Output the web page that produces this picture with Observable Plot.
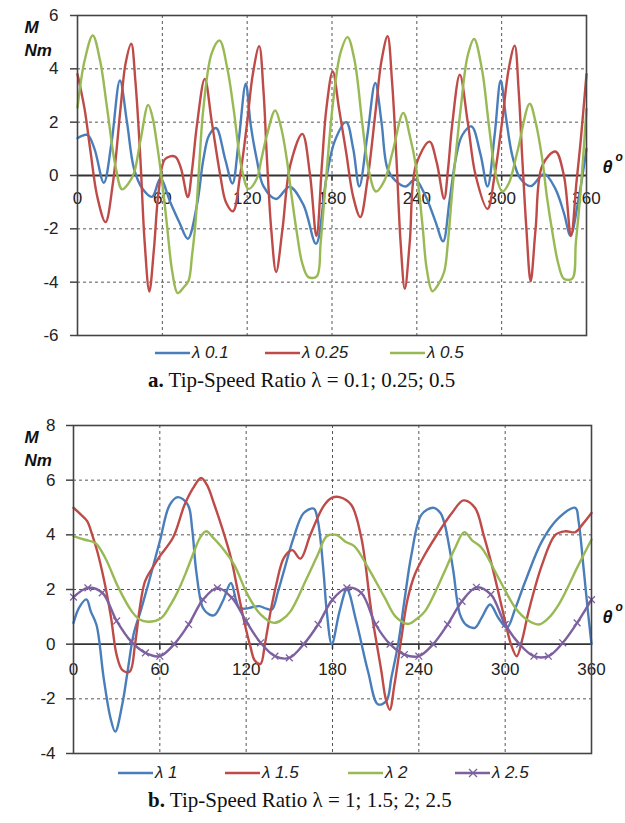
<!DOCTYPE html>
<html><head><meta charset="utf-8">
<script src="https://cdn.jsdelivr.net/npm/d3@7"></script>
<script src="https://cdn.jsdelivr.net/npm/@observablehq/plot@0.6"></script>
<style>
body{margin:0;background:#fff;width:625px;font-family:"Liberation Sans",Arial,sans-serif;}
.legend{position:relative;height:26px;}
.item{position:absolute;top:0;height:26px;display:flex;align-items:center;font-style:italic;font-size:17px;color:#222;white-space:nowrap}
.item svg{margin-right:2px}
.caption{height:28px;padding-left:148px;font-family:"Liberation Serif","Times New Roman",serif;font-size:21px;color:#111;line-height:28px;white-space:nowrap}
</style></head><body>
<div id="chartA"></div>
<div class="legend" id="legA"></div>
<div class="caption"><b>a.</b> Tip-Speed Ratio λ = 0.1; 0.25; 0.5</div>
<div id="chartB"></div>
<div class="legend" id="legB"></div>
<div class="caption"><b>b.</b> Tip-Speed Ratio λ = 1; 1.5; 2; 2.5</div>
<script>
// ---------- data (theta in degrees, M in Nm) ----------
const xTicks = [0, 60, 120, 180, 240, 300, 360];
const yTicksA = [-6, -4, -2, 0, 2, 4, 6];
const yTicksB = [-4, -2, 0, 2, 4, 6, 8];
const seriesA = ["λ 0.1", "λ 0.25", "λ 0.5"];
const seriesB = ["λ 1", "λ 1.5", "λ 2", "λ 2.5"];

const a01 = [[0,1.4],[7,1.52],[12,1.0],[18.6,-0.27],[24,1.2],[30,3.56],[35,2.0],[40,0.25],[46,-0.5],[52.7,-0.8],[58.6,-0.12],[65.6,-1.0],[72,-1.75],[78,-2.37],[84.5,-1.1],[89,0.6],[93,1.5],[98,1.78],[104.5,0.6],[109.6,-0.3],[114,1.3],[119,3.44],[122.5,1.9],[126.8,0.6],[131.5,-0.4],[140.5,-0.88],[150,-0.42],[159.8,-1.1],[168.7,-2.56],[176,-0.1],[182,1.3],[190,2.0],[195,1.0],[199.3,-0.41],[205,1.5],[210.6,3.47],[215,2.0],[219.3,0.25],[225,-0.2],[232,-0.41],[238.8,-0.15],[246,-0.75],[253,-1.7],[258.6,-2.47],[263,-1.0],[267.5,0.62],[272,1.5],[278.6,1.84],[285,0.8],[290,-0.41],[295,1.5],[299.3,3.56],[303,2.2],[307.5,0.75],[313,-0.1],[320.5,-0.4],[330,0.06],[338,-0.5],[344,-1.4],[348.7,-2.25],[354,-1.0],[360,1.0]];

const a025 = [[0,3.8],[5,2.5],[9.2,0.9],[14,-0.8],[19.8,-1.75],[25,-0.3],[30.4,2.5],[34,4.2],[38,4.94],[41,3.5],[44.5,0.6],[47.5,-2.5],[50.8,-4.35],[54,-2.8],[57.4,-0.6],[62,0.62],[69,0.71],[73,0.3],[78,-0.81],[81,0.2],[84.5,1.9],[90,3.62],[95,2.0],[101,0],[105,-1.0],[110,-1.34],[115,0],[119.8,1.9],[124,3.8],[128.5,4.85],[131.5,3.2],[134,0.62],[137,-2.0],[140.5,-3.62],[145,-2.0],[150.4,0.37],[159,1.56],[164.5,0],[169,-2.27],[173,0.5],[176,2.5],[180.5,3.9],[185,2.5],[190,0.87],[195,-0.8],[200,-1.56],[205,-0.2],[211,2.5],[215,4.3],[219.3,5.22],[222.5,3.5],[225.6,0.62],[228.5,-2.5],[231.5,-4.25],[235,-2.5],[239.3,0.37],[249,1.27],[254,0.5],[259.3,-0.87],[262,0.2],[265,1.9],[270.4,3.78],[276,2.0],[281.6,0],[290,-1.25],[295,0],[300.5,2.1],[305,4.0],[309.2,4.87],[312,3.2],[314.6,0.62],[317.5,-2.0],[320.5,-3.97],[324,-2.0],[328.7,0.37],[338,0.9],[344,0],[349,-2.27],[353,-0.2],[355.8,1.25],[360,3.8]];

const a05 = [[0,2.55],[5,4.3],[10.8,5.25],[16,4.3],[21,2.5],[26.8,0.37],[31.5,-0.52],[36,-0.3],[40,0.1],[44.5,1.3],[50,2.65],[53,2.2],[56,1.25],[60,-0.3],[63.3,-1.87],[67,-3.6],[70.8,-4.41],[75,-4.2],[78.6,-3.94],[81,-3.0],[83.3,-1.87],[86,0.3],[89,2.5],[95,4.6],[100.5,5.06],[106,4.0],[110.4,2.5],[116.2,0.25],[121,-0.5],[126.8,-0.12],[130,0.6],[133.9,1.5],[139.8,2.44],[144,1.8],[148,0.62],[151,-0.6],[155,-2.1],[159,-3.3],[163.3,-3.81],[169.2,-3.78],[172,-2.5],[175,-0.62],[181,2.87],[186,4.6],[191,5.19],[196,4.3],[201.6,1.87],[206,0.2],[211,-0.6],[217,-0.2],[222.8,0.87],[230.4,2.35],[235,1.5],[239.3,0.37],[244,-1.87],[247,-3.5],[251,-4.34],[255,-4.1],[259.3,-3.62],[262,-2.5],[265,-0.62],[271,2.5],[276,4.5],[280.5,5.12],[286,4.0],[291,1.87],[296,0],[300.5,-0.6],[305,-0.3],[311,0.87],[319.8,2.69],[324,2.0],[328.7,0.62],[332,-0.8],[335.8,-2.1],[340,-3.3],[344,-3.87],[349.9,-3.87],[352.5,-2.5],[355.8,-0.62],[360,2.5]];

const b1 = [[0,0.78],[4,1.35],[9,1.64],[12,1.2],[16,0.7],[21,-1.25],[25.7,-2.7],[29,-3.2],[33.9,-2.2],[37.3,-1.1],[41.8,0.37],[46.6,1.2],[52,2.2],[60,3.77],[66.9,5.1],[72.6,5.38],[79.5,5.1],[82.5,4.2],[85.3,2.67],[89.9,1.33],[94,1.1],[97.9,1.06],[103.7,1.57],[109.4,2.24],[113,1.6],[115.2,1.33],[119.8,1.3],[124,1.35],[129,1.39],[134,1.3],[138,1.27],[142,1.9],[146.2,2.67],[153,3.9],[160,4.8],[167,4.96],[169.5,4.6],[171.5,3.9],[174,2.5],[176,1.2],[179.5,0],[184.9,1.2],[190,2.0],[196.5,0.84],[204.7,-1.0],[211.6,-2.2],[217.4,-2.08],[221,-1.2],[225.6,0],[230,1.6],[234.9,3.28],[241.9,4.74],[250,4.99],[255,4.8],[258,4.38],[261,3.6],[264,2.67],[268.6,1.09],[273,0.7],[279,0.6],[284,1.0],[289.5,1.45],[295.3,0.96],[301.2,0.6],[307,1.3],[314,2.3],[325.6,3.77],[337.2,4.62],[348.8,4.99],[351,4.5],[354.7,2.67],[357.5,1.2],[360,0]];

const b15 = [[0,4.99],[5,4.75],[9.5,4.5],[13,4.0],[16.5,3.4],[21,2.4],[26,1.0],[30,-0.4],[34,-0.95],[39,-1.01],[42.8,0],[46,1.3],[49.7,2.3],[55,2.8],[60,3.22],[69.2,3.9],[77.2,5.1],[83,5.7],[88.7,6.08],[93,5.8],[97.9,5.1],[103,4.3],[109.4,3.16],[114,2.0],[118.6,0.84],[123,-0.1],[126,-0.6],[130,-0.72],[133,0],[137,1.2],[141,2.2],[146.2,3.16],[152,3.44],[157.7,3.13],[164.6,4.0],[173.8,5.05],[179.5,5.35],[184.9,5.38],[193,5.1],[200,3.9],[207,1.2],[214,-1.0],[217,-2.0],[219.8,-2.4],[223,-1.5],[227.9,0.23],[232,1.6],[237.2,2.55],[244.2,3.28],[255.8,4.26],[263,4.8],[271,5.26],[279,4.99],[285,4.0],[290.7,2.9],[300,0.84],[304,0],[308,-0.44],[312,0.2],[316.3,1.2],[325.6,2.9],[334.9,4.0],[341.9,4.13],[348.8,4.1],[354,4.4],[360,4.8]];

const b2 = [[0,3.95],[8,3.82],[15.2,3.7],[22,3.16],[31.3,2.06],[40.5,1.2],[46,0.9],[52,0.82],[61,0.96],[67,1.4],[72.6,1.94],[78,2.6],[83,3.28],[88,3.9],[92.2,4.13],[97,3.9],[102.5,3.58],[111.7,2.9],[120.9,1.82],[130,1.09],[139.3,0.78],[145,0.9],[150.8,1.2],[162.3,2.43],[170,3.3],[176,3.95],[182.6,4.0],[189,3.75],[195.3,3.58],[204.7,2.8],[216.3,1.7],[224,1.0],[232.6,0.74],[238,0.9],[244.2,1.2],[258,2.67],[265,3.5],[271.6,4.1],[277,3.8],[283.7,3.52],[295.3,2.43],[307,1.33],[315,0.9],[323.3,0.72],[330,0.95],[337.2,1.45],[351,2.9],[360,3.83]];

const b25Theta = [0,10,20,30,40,50,60,70,80,90,100,110,120,130,140,150,160,170,180,190,200,210,220,230,240,250,260,270,280,290,300,310,320,330,340,350,360];
const b25M = [1.72,2.06,1.88,0.85,0.1,-0.32,-0.44,0,0.72,1.63,2.06,1.7,0.84,0.05,-0.44,-0.5,0,0.72,1.63,2.06,1.88,0.72,0,-0.38,-0.44,0,0.72,1.57,2.08,1.82,0.72,0,-0.44,-0.44,0.05,0.78,1.63];

// ---------- styling ----------
const blue = "#4a7ebb", red = "#be4b48", green = "#98b954", purple = "#7d60a0";
const font = "Liberation Sans, Arial, sans-serif";
const rows = (pts) => pts.map(([t, m]) => ({theta: t, M: m}));
const b25 = b25Theta.map((t, i) => ({theta: t, M: b25M[i]}));

function frameMarks(o) {
  const grid = {stroke: "#555", strokeOpacity: 1, strokeDasharray: "3,3", strokeWidth: 1};
  const inner = o.yTicks.slice(1, -1).filter(v => v !== 0);
  return [
    Plot.gridY(inner, grid),
    Plot.gridX(xTicks.slice(1, -1), grid),
    Plot.axisY(o.yTicks, {tickSize: 7, tickPadding: o.pad, stroke: "#444", strokeWidth: 1.5, fontSize: 17, fill: "#222", label: null, tickFormat: d => String(d)}),
    Plot.ruleY([0], {stroke: "#333", strokeWidth: 1.8}),
    Plot.ruleX(xTicks.slice(1, -1), {x: d => d, y1: 0, y2: o.tickDrop, stroke: "#333", strokeWidth: 1.5}),
    Plot.text(xTicks, {x: d => d, y: 0, dy: o.labelDy, text: d => String(d), fontSize: 17, fill: "#222"})
  ];
}
function labelMarks(o) {
  const lab = {fontSize: 17, fontWeight: "bold", fontStyle: "italic", fill: "#111"};
  return [
    Plot.frame({stroke: "#444", strokeWidth: 1.6}),
    Plot.text(["M"], {frameAnchor: "top-left", dx: o.mdx, dy: 5, text: d => d, ...lab}),
    Plot.text(["Nm"], {frameAnchor: "top-left", dx: o.mdx, dy: 28, text: d => d, ...lab}),
    Plot.text(["θ"], {frameAnchor: "top-right", dx: o.tdx, dy: o.tdy, text: d => d, textAnchor: "start", ...lab, fontSize: 18}),
    Plot.text(["o"], {frameAnchor: "top-right", dx: o.tdx + 13, dy: o.tdy - 8, text: d => d, textAnchor: "start", ...lab, fontSize: 12})
  ];
}

const lineOpts = (c) => ({x: "theta", y: "M", stroke: c, strokeWidth: 2.4, curve: "catmull-rom"});

const chartA = Plot.plot({
  width: 625, height: 340,
  marginLeft: 77, marginRight: 39, marginTop: 15, marginBottom: 5,
  x: {domain: [0, 360], axis: null}, y: {domain: [-6, 6]},
  style: {fontFamily: font, fontSize: "17px", overflow: "visible", background: "#fff"},
  marks: [
    ...frameMarks({yTicks: yTicksA, pad: 12, tickDrop: -0.22, labelDy: 23}),
    Plot.line(rows(a01), lineOpts(blue)),
    Plot.line(rows(a025), lineOpts(red)),
    Plot.line(rows(a05), lineOpts(green)),
    ...labelMarks({mdx: -53, tdx: 16, tdy: 145})
  ]
});
document.getElementById("chartA").append(chartA);

const chartB = Plot.plot({
  width: 625, height: 366,
  marginLeft: 73, marginRight: 34, marginTop: 31, marginBottom: 7,
  x: {domain: [0, 360], axis: null}, y: {domain: [-4, 8]},
  style: {fontFamily: font, fontSize: "17px", overflow: "visible", background: "#fff"},
  marks: [
    ...frameMarks({yTicks: yTicksB, pad: 11, tickDrop: -0.2, labelDy: 25}),
    Plot.line(rows(b1), lineOpts(blue)),
    Plot.line(rows(b15), lineOpts(red)),
    Plot.line(rows(b2), lineOpts(green)),
    Plot.line(b25, lineOpts(purple)),
    Plot.dot(b25, {x: "theta", y: "M", symbol: "times", r: 3.2, stroke: purple, strokeWidth: 1.3}),
    ...labelMarks({mdx: -49, tdx: 11, tdy: 185})
  ]
});
document.getElementById("chartB").append(chartB);

// ---------- legends ----------
function legend(id, names, colors, lefts, markers) {
  const el = document.getElementById(id);
  names.forEach((n, i) => {
    const d = document.createElement("div");
    d.className = "item";
    d.style.left = lefts[i] + "px";
    const mk = markers[i] ? `<path d="M14,2 L22,10 M22,2 L14,10" stroke="${colors[i]}" stroke-width="1.3"/>` : "";
    d.innerHTML = `<svg width="35" height="12"><line x1="0" y1="6" x2="35" y2="6" stroke="${colors[i]}" stroke-width="2.4"/>${mk}</svg><span>${n}</span>`;
    el.append(d);
  });
}
legend("legA", seriesA, [blue, red, green], [155, 265, 390], [false, false, false]);
legend("legB", seriesB, [blue, red, green, purple], [118, 225, 348, 455], [false, false, false, true]);
</script>
</body></html>
